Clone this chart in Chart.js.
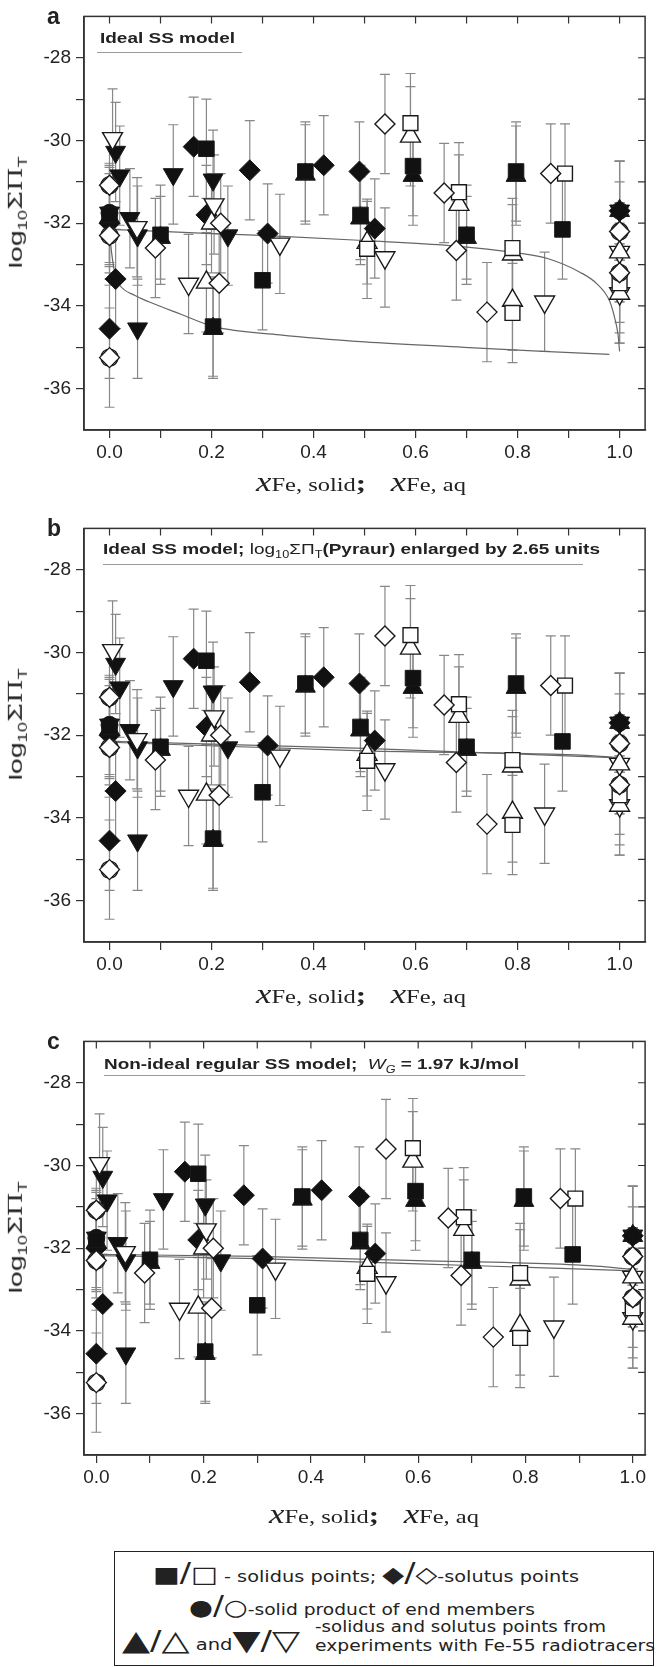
<!DOCTYPE html>
<html>
<head>
<meta charset="utf-8">
<script src="https://cdn.jsdelivr.net/npm/chart.js@4.4.0/dist/chart.umd.min.js"></script>
<style>
  body { margin: 0; background: #fff; width: 658px; height: 1667px; position: relative; overflow: hidden;
         font-family: "Liberation Sans", Arial, sans-serif; color: #222; }
  .panel { position: absolute; left: 0; width: 658px; height: 510px; }
  .panel canvas { position: absolute; left: 0; top: 0; }
  .letter { position: absolute; left: 47px; top: 3px; font-weight: bold; font-size: 23px; }
  .ttl { position: absolute; font-weight: bold; font-size: 15px; white-space: nowrap; transform-origin: left center; }
  .ttl .nb { font-weight: normal; font-size: 15px; }
  .ttl sub { font-size: 10px; }
  .uline { position: absolute; height: 1px; background: #9a9a9a; }
  .ytitle { position: absolute; text-align: center; font-size: 19px; white-space: nowrap; transform-origin: center center; }
  .ytitle sub { font-size: 12px; }
  .ytitle .sp { font-family: "DejaVu Serif", serif; font-size: 18px; }
  .xtitle { position: absolute; white-space: nowrap; font-family: "Liberation Serif", "Times New Roman", serif;
            font-size: 19px; transform-origin: left center; }
  .xtitle i { font-size: 27px; }
  .xtitle b { font-size: 24px; }
  #legend { position: absolute; left: 114px; top: 1551px; width: 538px; height: 113px; border: 1.5px solid #222;
            font-family: "DejaVu Sans", sans-serif; font-size: 15px; }
  #legend .row { position: absolute; white-space: nowrap; transform-origin: left center; }
  #legend .s { font-size: 22px; }
  #legend .sl { font-size: 26px; }
</style>
</head>
<body>

<div class="panel" id="pa" style="top:0px">
  <canvas id="chartA" width="658" height="480"></canvas>
  <div class="letter">a</div>
  <div class="ttl" data-w="135" style="left:100px; top:29px">Ideal SS model</div>
  <div class="uline" style="left:97px; top:52px; width:145px"></div>
</div>

<div class="panel" id="pb" style="top:512px">
  <canvas id="chartB" width="658" height="480"></canvas>
  <div class="letter">b</div>
  <div class="ttl" data-w="497" style="left:103px; top:28px">Ideal SS model; <span class="nb">log<sub>10</sub>ΣΠ<sub>T</sub></span>(Pyraur) enlarged by 2.65 units</div>
  <div class="uline" style="left:103px; top:52px; width:480px"></div>
</div>

<div class="panel" id="pc" style="top:1025px">
  <canvas id="chartC" width="658" height="480"></canvas>
  <div class="letter">c</div>
  <div class="ttl" data-w="415" style="left:104px; top:30px">Non-ideal regular SS model;&nbsp; <i style="font-weight:normal">W<sub>G</sub></i> = 1.97 kJ/mol</div>
  <div class="uline" style="left:104px; top:50px; width:421px"></div>
</div>

<div id="legend">
  <div class="row" data-w="426" style="left:38px; top:6px"><span class="s">■</span><span class="sl">/</span><span class="s">□</span> - solidus points; <span class="s">◆</span><span class="sl">/</span><span class="s">◇</span>-solutus points</div>
  <div class="row" data-w="346" style="left:74px; top:39px"><span class="s">●</span><span class="sl">/</span><span class="s">○</span>-solid product of end members</div>
  <div class="row" data-w="178" style="left:7px; top:72px"><span class="s" style="font-size:28px">▲</span><span class="sl">/</span><span class="s" style="font-size:28px">△</span> and<span class="s" style="font-size:28px">▼</span><span class="sl">/</span><span class="s" style="font-size:28px">▽</span></div>
  <div class="row" data-w="291" style="left:200px; top:66px">-solidus and solutus points from</div>
  <div class="row" data-w="340" style="left:200px; top:85px">experiments with Fe-55 radiotracers</div>
</div>

<script>
// Axis ticks
const xTickValues = [0, 0.1, 0.2, 0.3, 0.4, 0.5, 0.6, 0.7, 0.8, 0.9, 1.0];
const xTickLabels = ['0.0', '', '0.2', '', '0.4', '', '0.6', '', '0.8', '', '1.0'];
const yTickValues = [-36, -35, -34, -33, -32, -31, -30, -29, -28];
const yTickLabels = ['-36', '', '-34', '', '-32', '', '-30', '', '-28'];

// Solidus points (filled / open squares)
const solidusFilledX = [0.0, 0.1, 0.19, 0.203, 0.3, 0.384, 0.492, 0.595, 0.7, 0.797, 0.888];
const solidusFilledY = [-31.8, -32.28, -30.2, -34.5, -33.38, -30.75, -31.8, -30.62, -32.28, -30.75, -32.15];
const solidusFilledErr = [1.2, 1.2, 1.2, 1.2, 1.2, 1.2, 1.2, 1.2, 1.2, 1.2, 1.2];
const solidusOpenX = [0.505, 0.59, 0.685, 0.79, 0.79, 0.893, 1.0];
const solidusOpenY = [-32.62, -29.58, -31.25, -32.6, -34.17, -30.8, -33.45];
const solidusOpenErr = [1.2, 1.2, 1.2, 1.2, 1.2, 1.2, 1.2];

// Solutus points (filled / open diamonds)
const solutusFilledX = [0.0, 0.0, 0.012, 0.165, 0.19, 0.275, 0.31, 0.42, 0.49, 0.52, 1.0];
const solutusFilledY = [-32.0, -34.55, -33.35, -30.15, -31.8, -30.72, -32.25, -30.6, -30.75, -32.13, -31.7];
const solutusFilledErr = [1.2, 1.2, 1.2, 1.2, 1.2, 1.2, 1.2, 1.2, 1.2, 1.2, 1.2];
const solutusOpenX = [0.0, 0.0, 0.0, 0.09, 0.215, 0.218, 0.54, 0.656, 0.68, 0.74, 0.865, 1.0, 1.0];
const solutusOpenY = [-31.08, -32.3, -35.25, -32.6, -33.45, -32.0, -29.6, -31.27, -32.66, -34.15, -30.8, -32.2, -33.2];
const solutusOpenErr = [1.2, 1.2, 1.2, 1.2, 1.2, 1.2, 1.2, 1.2, 1.2, 1.2, 1.2, 1.2, 1.2];

// Solid product of end members (filled / open circles)
const endFilledX = [0.0, 1.0];
const endFilledY = [-31.75, -31.7];
const endOpenX = [0.0, 0.0, 0.0, 1.0, 1.0];
const endOpenY = [-31.08, -32.3, -35.25, -32.2, -33.2];

// Fe-55 radiotracer solidus points (up triangles)
const tracerSolidusFilledX = [0.0, 0.1, 0.203, 0.384, 0.492, 0.595, 0.7, 0.797, 1.0];
const tracerSolidusFilledY = [-31.85, -32.35, -34.55, -30.82, -31.88, -30.85, -32.35, -30.85, -31.7];
const tracerSolidusFilledErr = [1.2, 1.0, 1.2, 1.2, 1.0, 1.2, 1.0, 1.2, 1.2];
const tracerSolidusOpenX = [0.2, 0.19, 0.505, 0.59, 0.685, 0.79, 0.79, 1.0, 1.0];
const tracerSolidusOpenY = [-32.0, -33.43, -32.47, -29.9, -31.55, -32.75, -33.87, -32.7, -33.7];
const tracerSolidusOpenErr = [1.2, 1.2, 1.0, 1.2, 1.2, 1.2, 1.2, 1.2, 1.2];

// Fe-55 radiotracer solutus points (down triangles)
const tracerSolutusFilledX = [0.0, 0.012, 0.02, 0.04, 0.055, 0.055, 0.125, 0.203, 0.232, 1.0];
const tracerSolutusFilledY = [-31.75, -30.28, -30.85, -31.88, -32.3, -34.55, -30.82, -30.95, -32.3, -31.7];
const tracerSolutusFilledErr = [1.2, 1.2, 1.2, 1.2, 1.2, 1.2, 1.2, 1.2, 1.2, 1.2];
const tracerSolutusOpenX = [0.006, 0.054, 0.155, 0.205, 0.334, 0.54, 0.853, 1.0, 1.0];
const tracerSolutusOpenY = [-29.95, -32.1, -33.47, -31.55, -32.5, -32.83, -33.9, -32.7, -33.7];
const tracerSolutusOpenErr = [1.2, 1.2, 1.2, 1.2, 1.2, 1.2, 1.2, 1.2, 1.2];

// Model curves, panel a (ideal SS)
const idealSolidusX = [0, 0.1, 0.2, 0.31, 0.5, 0.667, 0.8, 0.86, 0.923, 0.955, 0.98, 0.99, 0.997, 1.0];
const idealSolidusY = [-32.15, -32.2, -32.25, -32.3, -32.42, -32.54, -32.72, -32.86, -33.19, -33.46, -33.87, -34.27, -34.7, -35.1];
const idealSolutusX = [0.0, 0.004, 0.012, 0.02, 0.05, 0.077, 0.14, 0.205, 0.334, 0.5, 0.695, 0.85, 0.98];
const idealSolutusY = [-32.2, -32.7, -33.3, -33.5, -33.75, -33.9, -34.2, -34.5, -34.7, -34.87, -35.0, -35.1, -35.17];

// Model curves, panel b (Pyraur enlarged)
const enlargedSolidusX = [0, 0.5, 1.0];
const enlargedSolidusY = [-32.15, -32.32, -32.55];
const enlargedSolutusX = [0, 0.5, 0.95, 1.0];
const enlargedSolutusY = [-32.17, -32.38, -32.5, -32.55];

// Model curves, panel c (regular SS)
const regularSolidusX = [0, 0.3, 0.6, 0.85, 0.95, 1.0];
const regularSolidusY = [-32.15, -32.2, -32.3, -32.38, -32.45, -32.52];
const regularSolutusX = [0, 0.3, 0.6, 0.85, 1.0];
const regularSolutusY = [-32.18, -32.25, -32.38, -32.48, -32.55];

const zip = (xs, ys) => xs.map((x, i) => ({ x: x, y: ys[i] }));

function markerSet(xs, ys, errs, style, filled, radius, rotation) {
    return {
        data: zip(xs, ys),
        errs: errs,
        showLine: false,
        pointStyle: style,
        pointRadius: radius,
        pointRotation: rotation || 0,
        pointBackgroundColor: filled ? '#111' : '#fff',
        pointBorderColor: '#1a1a1a',
        pointBorderWidth: filled ? 1 : 1.4,
        order: 1
    };
}

function curveSet(xs, ys) {
    return {
        data: zip(xs, ys),
        showLine: true,
        pointRadius: 0,
        borderColor: '#666',
        borderWidth: 1.2,
        cubicInterpolationMode: 'monotone',
        order: 5
    };
}

function allMarkers() {
    return [
        markerSet(solutusOpenX, solutusOpenY, solutusOpenErr, 'rectRot', false, 10),
        markerSet(endOpenX, endOpenY, null, 'circle', false, 8.5),
        markerSet(solidusOpenX, solidusOpenY, solidusOpenErr, 'rect', false, 10.5),
        markerSet(tracerSolidusOpenX, tracerSolidusOpenY, tracerSolidusOpenErr, 'triangle', false, 11.5),
        markerSet(tracerSolutusOpenX, tracerSolutusOpenY, tracerSolutusOpenErr, 'triangle', false, 11.5, 180),
        markerSet(solidusFilledX, solidusFilledY, solidusFilledErr, 'rect', true, 11),
        markerSet(solutusFilledX, solutusFilledY, solutusFilledErr, 'rectRot', true, 10.5),
        markerSet(endFilledX, endFilledY, null, 'circle', true, 8.5),
        markerSet(tracerSolidusFilledX, tracerSolidusFilledY, tracerSolidusFilledErr, 'triangle', true, 11.5),
        markerSet(tracerSolutusFilledX, tracerSolutusFilledY, tracerSolutusFilledErr, 'triangle', true, 11.5, 180)
    ];
}

// Error bars drawn under the markers
const errorBars = {
    id: 'errorBars',
    beforeDatasetsDraw(chart) {
        const { ctx, scales: { x, y } } = chart;
        ctx.save();
        ctx.strokeStyle = '#888';
        ctx.lineWidth = 1.2;
        chart.data.datasets.forEach(ds => {
            if (!ds.errs) return;
            ds.data.forEach((p, i) => {
                const px = x.getPixelForValue(p.x);
                const top = y.getPixelForValue(p.y + ds.errs[i]);
                const bot = y.getPixelForValue(p.y - ds.errs[i]);
                ctx.beginPath();
                ctx.moveTo(px, top); ctx.lineTo(px, bot);
                ctx.moveTo(px - 5, top); ctx.lineTo(px + 5, top);
                ctx.moveTo(px - 5, bot); ctx.lineTo(px + 5, bot);
                ctx.stroke();
            });
        });
        ctx.restore();
    }
};

// Closed frame with inward ticks on top and right
const frame = {
    id: 'frame',
    afterDraw(chart) {
        const { ctx, chartArea: a, scales: { x, y } } = chart;
        ctx.save();
        ctx.strokeStyle = '#333';
        ctx.lineWidth = 1.5;
        ctx.strokeRect(a.left, a.top, a.right - a.left, a.bottom - a.top);
        ctx.lineWidth = 1.2;
        ctx.beginPath();
        xTickValues.forEach(v => {
            const px = x.getPixelForValue(v);
            ctx.moveTo(px, a.top); ctx.lineTo(px, a.top + 7);
        });
        yTickValues.forEach(v => {
            const py = y.getPixelForValue(v);
            ctx.moveTo(a.right, py); ctx.lineTo(a.right - 7, py);
        });
        ctx.stroke();
        ctx.restore();
    }
};

function makePanel(id, curves, xMin, xMax, padRight) {
    const tickFont = { family: '"Liberation Sans", Arial, sans-serif', size: 19 };
    return new Chart(document.getElementById(id), {
        type: 'scatter',
        data: { datasets: allMarkers().concat(curves) },
        options: {
            responsive: false,
            animation: false,
            events: [],
            layout: { padding: { top: 14, right: padRight, left: 0, bottom: 0 } },
            plugins: { legend: { display: false }, tooltip: { enabled: false } },
            scales: {
                x: {
                    type: 'linear', min: xMin, max: xMax,
                    afterBuildTicks: s => { s.ticks = xTickValues.map(v => ({ value: v })); },
                    afterFit: s => { s.height = 50; },
                    ticks: { callback: (v, i) => xTickLabels[i], font: tickFont, color: '#222',
                             padding: 3, maxRotation: 0, autoSkip: false },
                    grid: { drawOnChartArea: false, drawTicks: true, tickLength: 8, color: '#333', lineWidth: 1.2 },
                    border: { color: '#333', width: 1.5 }
                },
                y: {
                    type: 'linear', min: -37, max: -27,
                    afterBuildTicks: s => { s.ticks = yTickValues.map(v => ({ value: v })); },
                    afterFit: s => { s.width = 84; },
                    ticks: { callback: (v, i) => yTickLabels[i], font: tickFont, color: '#222',
                             padding: 5, autoSkip: false },
                    grid: { drawOnChartArea: false, drawTicks: true, tickLength: 8, color: '#333', lineWidth: 1.2 },
                    border: { color: '#333', width: 1.5 }
                }
            }
        },
        plugins: [errorBars, frame]
    });
}

// Axis titles, added to each panel
function addAxisTitles(panelId, xTitleLeft, xTitleTop) {
    const p = document.getElementById(panelId);
    const yt = document.createElement('div');
    yt.className = 'ytitle';
    yt.innerHTML = 'log<sub>10</sub><span class="sp">ΣΠ</span><sub>T</sub>';
    p.appendChild(yt);
    // rotate around its own centre, stretched to the measured length
    const w = yt.getBoundingClientRect().width;
    const h = yt.getBoundingClientRect().height;
    yt.style.left = (17 - w / 2) + 'px';
    yt.style.top = (212 - h / 2) + 'px';
    yt.style.transform = 'rotate(-90deg) scaleX(' + (112 / w) + ')';

    const xt = document.createElement('div');
    xt.className = 'xtitle';
    xt.dataset.w = '210';
    xt.style.left = xTitleLeft + 'px';
    xt.style.top = (xTitleTop - 16) + 'px';
    xt.innerHTML = '<i>x</i>Fe, solid<b>;</b>&nbsp;&nbsp;&nbsp;&nbsp;<i>x</i>Fe, aq';
    p.appendChild(xt);
}

addAxisTitles('pa', 256, 483);
addAxisTitles('pb', 256, 483);
addAxisTitles('pc', 269, 490);

makePanel('chartA', [curveSet(idealSolidusX, idealSolidusY), curveSet(idealSolutusX, idealSolutusY)], -0.05, 1.05, 5);
makePanel('chartB', [curveSet(enlargedSolidusX, enlargedSolidusY), curveSet(enlargedSolutusX, enlargedSolutusY)], -0.05, 1.05, 5);
makePanel('chartC', [curveSet(regularSolidusX, regularSolidusY), curveSet(regularSolutusX, regularSolutusY)], -0.023, 1.023, 3);

// Fit text blocks to the widths measured on the figure
document.querySelectorAll('[data-w]').forEach(el => {
    const w = el.getBoundingClientRect().width;
    if (w > 0) el.style.transform = 'scaleX(' + (parseFloat(el.dataset.w) / w) + ')';
});
</script>
</body>
</html>
